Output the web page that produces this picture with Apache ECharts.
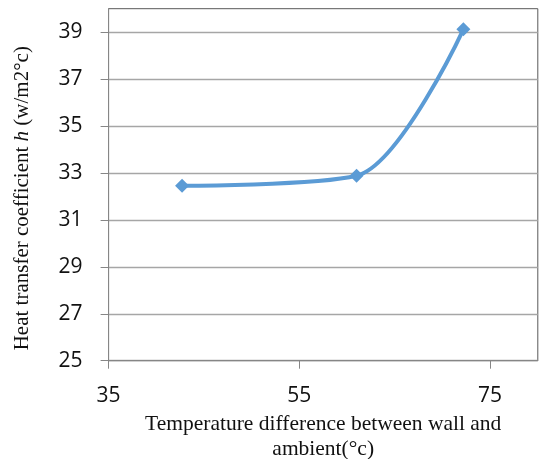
<!DOCTYPE html>
<html>
<head>
<meta charset="utf-8">
<script src="https://cdn.jsdelivr.net/npm/echarts@6/dist/echarts.min.js"></script>
<style>
html,body{margin:0;padding:0;background:#fff;}
#c{width:539px;height:459px;}
</style>
</head>
<body>
<div id="c"></div>
<script>
var xValues = [42.7, 61.0, 72.2];
var hValues = [32.46, 32.88, 39.12];
var xTicks = [35, 55, 75];
var yTicks = [25, 27, 29, 31, 33, 35, 37, 39];
var xName = 'Temperature difference between wall and\nambient(°c)';
var yName = 'Heat transfer coefficient {i|h} (w/m2°c)';

var chart = echarts.init(document.getElementById('c'), null, {renderer: 'canvas'});
var seriesData = xValues.map(function (x, i) { return [x, hValues[i]]; });

chart.setOption({
  animation: false,
  grid: {
    left: 108.6, right: 1.2, top: 8.7, bottom: 98.3,
    containLabel: false, outerBoundsMode: 'none',
    show: true, borderColor: '#595959', borderWidth: 1, backgroundColor: 'transparent'
  },
  xAxis: {
    type: 'value', min: 35, max: 80,
    axisLine: {show: true, lineStyle: {color: '#868686', width: 1}},
    axisTick: {show: true, length: 8, customValues: xTicks, lineStyle: {color: '#868686'}},
    axisLabel: {customValues: xTicks, margin: 25, fontFamily: 'Open Sans', fontSize: 21, color: '#111'},
    splitLine: {show: false},
    name: xName,
    nameLocation: 'middle',
    nameGap: 50,
    nameTextStyle: {fontFamily: 'Liberation Serif', fontSize: 21.5, color: '#111', lineHeight: 25}
  },
  yAxis: {
    type: 'value', min: 25, max: 40,
    axisLine: {show: true, lineStyle: {color: '#868686', width: 1}},
    axisTick: {show: true, length: 8, customValues: yTicks, lineStyle: {color: '#868686'}},
    axisLabel: {customValues: yTicks, margin: 26, fontFamily: 'Open Sans', fontSize: 21, color: '#111'},
    splitLine: {show: true, lineStyle: {color: '#a6a6a6', width: 1.3}},
    name: yName,
    nameLocation: 'middle',
    nameGap: 76,
    nameTextStyle: {
      fontFamily: 'Liberation Serif', fontSize: 21, color: '#111', padding: [0, 27, 0, 0],
      rich: {i: {fontFamily: 'Liberation Serif', fontStyle: 'italic', fontSize: 21, color: '#111'}}
    }
  },
  series: [{
    type: 'line',
    data: seriesData,
    smooth: 0.3,
    symbol: 'diamond',
    symbolSize: 14,
    lineStyle: {color: '#5b9bd5', width: 4},
    itemStyle: {color: '#5b9bd5'}
  }]
});
</script>
</body>
</html>
